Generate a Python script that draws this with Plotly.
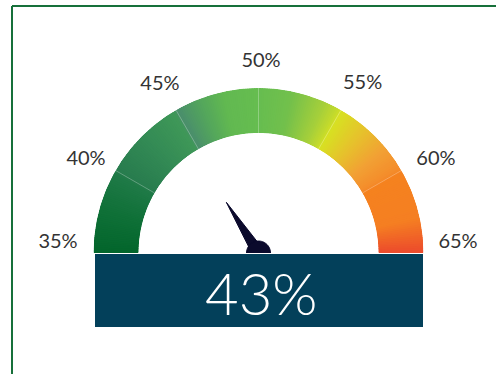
import plotly.graph_objects as go
import numpy as np

# ---- data ----
gauge_min = 35
gauge_max = 65
tick_values = [35, 40, 45, 50, 55, 60, 65]
tick_labels = ["35%", "40%", "45%", "50%", "55%", "60%", "65%"]
reading = 43                 # value shown in the box
needle_value = 44.6          # where the needle is drawn in the reference

# ---- style ----
W, H = 496, 374
label_radius = [203, 198, 196, 191, 197, 198, 197]
color_stops = [
    (35.0, "#02652b"), (37.5, "#0f7037"), (39.9, "#1f7a47"),
    (40.1, "#287c4e"), (42.5, "#338a55"), (44.9, "#3f9858"),
    (45.1, "#4a8e6c"), (46.5, "#53a55c"), (48.0, "#62b951"),
    (50.0, "#66bd50"), (52.0, "#72c04c"), (54.0, "#a6cf3a"),
    (54.9, "#c6db2b"), (55.1, "#d7e122"), (56.8, "#e6c22c"),
    (58.5, "#f2a034"), (59.9, "#f48c2b"), (60.1, "#f5821f"),
    (63.0, "#f57f22"), (65.0, "#ec4b2c"),
]


def hex2rgb(h):
    h = h.lstrip("#")
    return np.array([int(h[i:i + 2], 16) for i in (0, 2, 4)], float)


def color_at(v):
    xs = [s[0] for s in color_stops]
    cs = np.array([hex2rgb(s[1]) for s in color_stops])
    rgb = [np.interp(v, xs, cs[:, k]) for k in range(3)]
    return "rgb(%d,%d,%d)" % tuple(int(round(c)) for c in rgb)


def to_theta(v):
    return 180.0 - (v - gauge_min) / (gauge_max - gauge_min) * 180.0


# gradient made of thin overlapping slices
n = 240
vals = np.linspace(gauge_min, gauge_max, n + 1)
centers = (vals[:-1] + vals[1:]) / 2
slice_colors = [color_at(v) for v in centers]
slice_width = 180.0 / n * 1.8

cx, cy, R_out, R_in, R_big = 258.5, 253, 165, 120, 215
lab_cx = 261
dom_x = [(cx - R_out) / W, (cx + R_out) / W]
dom_y = [(H - cy) / H, (H - cy + R_out) / H]
dom2_x = [(cx - R_big) / W, (cx + R_big) / W]
dom2_y = [(H - cy) / H, (H - cy + R_big) / H]
dom3_x = [(lab_cx - R_big) / W, (lab_cx + R_big) / W]

fig = go.Figure()

fig.add_trace(go.Barpolar(
    r=[1] * n, theta=[to_theta(v) for v in centers], width=[slice_width] * n,
    marker=dict(color=slice_colors, line=dict(width=0)),
    subplot="polar", hoverinfo="skip", showlegend=False,
))

# faint segment separators
for v in tick_values[1:-1]:
    fig.add_trace(go.Scatterpolar(
        r=[0, 1], theta=[to_theta(v)] * 2, mode="lines",
        line=dict(color="rgba(255,255,255,0.35)", width=0.8),
        subplot="polar", hoverinfo="skip", showlegend=False,
    ))

# tick labels around the arc
lab_theta = [float(np.clip(90 + (to_theta(v) - 90) * 1.035, 0, 180)) for v in tick_values]
fig.add_trace(go.Scatterpolar(
    r=label_radius, theta=lab_theta,
    mode="text", text=tick_labels,
    textposition=["top center"] + ["middle center"] * (len(tick_values) - 2) + ["top center"],
    textfont=dict(family="Lato", size=20, color="#333333"),
    cliponaxis=False, subplot="polar3", hoverinfo="skip", showlegend=False,
))

# needle
t = to_theta(needle_value)
fig.add_trace(go.Scatterpolar(
    r=[60, 6, 6, 60], theta=[t, t + 90, t - 90, t], mode="lines",
    fill="toself", fillcolor="#0b0a2c", line=dict(color="#0b0a2c", width=1),
    subplot="polar2", hoverinfo="skip", showlegend=False,
))
hub_t = np.linspace(0, 360, 73)
fig.add_trace(go.Scatterpolar(
    r=[12] * len(hub_t), theta=hub_t, mode="lines", fill="toself",
    fillcolor="#0b0a2c", line=dict(color="#0b0a2c", width=1),
    subplot="polar2", hoverinfo="skip", showlegend=False,
))

hidden_polar = dict(
    sector=[0, 180], bgcolor="rgba(0,0,0,0)",
    radialaxis=dict(visible=False, range=[0, R_big]),
    angularaxis=dict(visible=False),
)

fig.update_layout(
    width=W, height=H, margin=dict(l=0, r=0, t=0, b=0),
    paper_bgcolor="white", plot_bgcolor="white",
    polar=dict(
        domain=dict(x=dom_x, y=dom_y), sector=[0, 180], hole=R_in / R_out,
        bgcolor="rgba(0,0,0,0)",
        radialaxis=dict(visible=False, range=[0, 1]),
        angularaxis=dict(visible=False),
    ),
    polar2=dict(domain=dict(x=dom2_x, y=dom2_y), **hidden_polar),
    polar3=dict(domain=dict(x=dom3_x, y=dom2_y), **hidden_polar),
)

# value box
fig.add_shape(type="rect", xref="paper", yref="paper",
              x0=95 / W, x1=423 / W, y0=(H - 327) / H, y1=(H - 254) / H,
              fillcolor="#03405a", line=dict(width=0), layer="above")
fig.add_annotation(xref="paper", yref="paper", x=261 / W, y=(H - 292) / H,
                   text=f"{reading}%", showarrow=False,
                   font=dict(family="Lato", size=58, color="white", weight=300),
                   xanchor="center", yanchor="middle")

# frame (left and top edges)
fig.add_shape(type="line", xref="paper", yref="paper",
              x0=12 / W, x1=12 / W, y0=0, y1=(H - 6) / H,
              line=dict(color="#17703a", width=2))
fig.add_shape(type="line", xref="paper", yref="paper",
              x0=12 / W, x1=1, y0=(H - 6) / H, y1=(H - 6) / H,
              line=dict(color="#17703a", width=2))

fig.write_html("out.html", config={"displayModeBar": False},
               post_script="document.body.style.margin='0px';")
